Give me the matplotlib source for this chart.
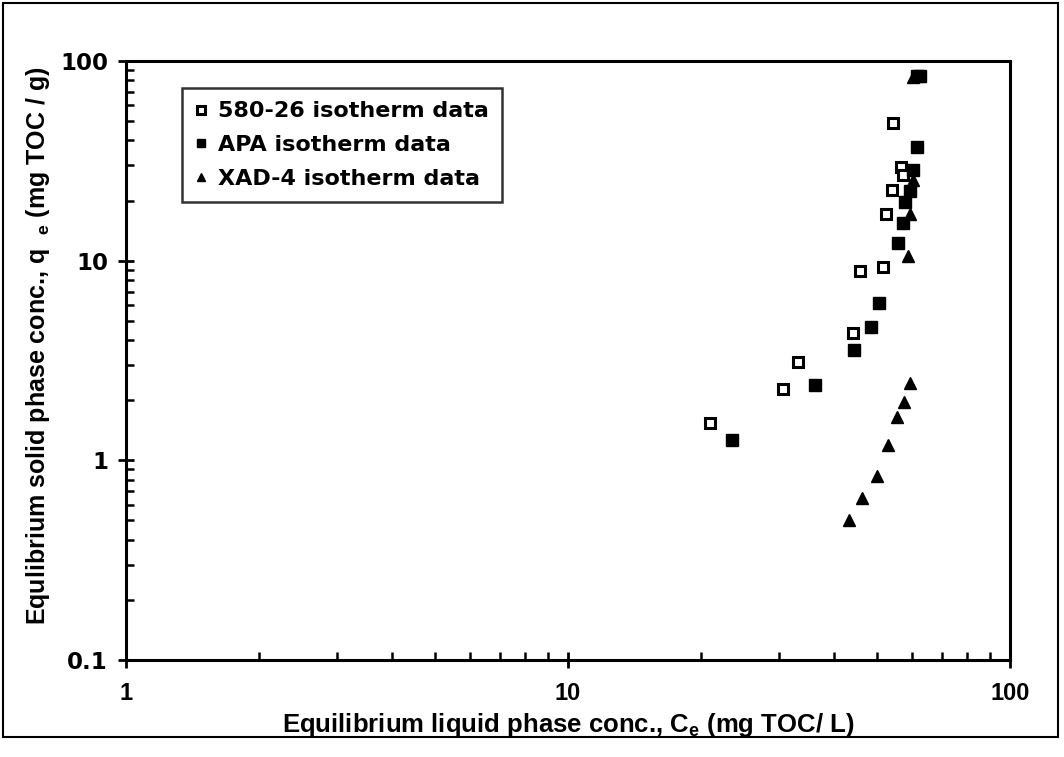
import matplotlib
matplotlib.use("Agg")
import matplotlib.pyplot as plt
from matplotlib.patches import Rectangle

# ---- data ----
x_580 = [21.0, 30.7, 33.2, 44.2, 45.8, 51.5, 52.4, 54.2, 54.4, 56.7, 57.4]
y_580 = [1.53, 2.27, 3.12, 4.36, 8.88, 9.32, 17.1, 22.6, 49.1, 29.4, 26.9]

x_apa = [23.5, 36.2, 44.4, 48.4, 50.5, 55.9, 57.2, 57.9, 59.3, 60.4, 61.5, 61.6, 62.5]
y_apa = [1.26, 2.39, 3.57, 4.64, 6.16, 12.2, 15.4, 19.7, 22.3, 28.5, 37.0, 84.0, 84.5]

x_xad = [43.2, 46.3, 49.9, 53.1, 55.4, 57.5, 59.4, 58.9, 59.4, 60.2, 60.3]
y_xad = [0.50, 0.646, 0.83, 1.20, 1.65, 1.95, 2.45, 10.5, 17.2, 25.4, 83.0]

labels = ["580-26 isotherm data", "APA isotherm data", "XAD-4 isotherm data"]
x_ticks = [1, 10, 100]
x_ticklabels = ["1", "10", "100"]
y_ticks = [0.1, 1, 10, 100]
y_ticklabels = ["0.1", "1", "10", "100"]

plt.rcParams['font.weight'] = 'bold'
plt.rcParams['mathtext.default'] = 'regular'

fig = plt.figure(figsize=(10.64, 7.57), dpi=100)
ax = fig.add_axes([126/1064, 1 - 660/757, 884/1064, 599/757])

ax.plot(x_580, y_580, linestyle='none', marker='s', markersize=7.5,
        markerfacecolor='white', markeredgecolor='black', markeredgewidth=2.2,
        label=labels[0])
ax.plot(x_apa, y_apa, linestyle='none', marker='s', markersize=8,
        markerfacecolor='black', markeredgecolor='black', label=labels[1])
ax.plot(x_xad, y_xad, linestyle='none', marker='^', markersize=8.5,
        markerfacecolor='black', markeredgecolor='black', label=labels[2])

ax.set_xscale('log')
ax.set_yscale('log')
ax.set_xlim(1, 100)
ax.set_ylim(0.1, 100)

ax.set_xticks(x_ticks)
ax.set_xticklabels(x_ticklabels)
ax.set_yticks(y_ticks)
ax.set_yticklabels(y_ticklabels)

ax.tick_params(which='major', direction='inout', length=12, width=2, color='black')
ax.tick_params(which='minor', direction='in', length=6, width=1.8, color='black')
ax.tick_params(axis='x', which='major', pad=10, labelsize=17,
               labelfontfamily='Liberation Sans')
ax.tick_params(axis='y', which='major', pad=7, labelsize=16.5,
               labelfontfamily='DejaVu Sans')

for s in ax.spines.values():
    s.set_linewidth(2.2)
    s.set_color('black')

ax.set_xlabel("Equilibrium liquid phase conc., C$_e$ (mg TOC/ L)",
              family='Liberation Sans', weight='bold', fontsize=18.5, labelpad=4)
ax.set_ylabel("Equlibrium solid phase conc., q  $_e$ (mg TOC / g)",
              family='Liberation Sans', weight='bold', fontsize=18)
ax.yaxis.set_label_coords(-0.084, 0.524)

leg = ax.legend(loc='upper left', bbox_to_anchor=(0.0633, 0.955), borderaxespad=0,
                frameon=True, fancybox=False, edgecolor='black', markerscale=0.7,
                prop={'family': 'DejaVu Sans', 'weight': 'bold', 'size': 16},
                handlelength=0.5, handletextpad=0.5, labelspacing=0.62,
                borderpad=0.6)
leg.get_frame().set_linewidth(1.8)

fig.patches.append(Rectangle((3/1064, 1 - 737/757), 1055/1064, 734/757,
                             transform=fig.transFigure, fill=False,
                             edgecolor='black', linewidth=1.5))

fig.savefig("out.png", dpi=100)
